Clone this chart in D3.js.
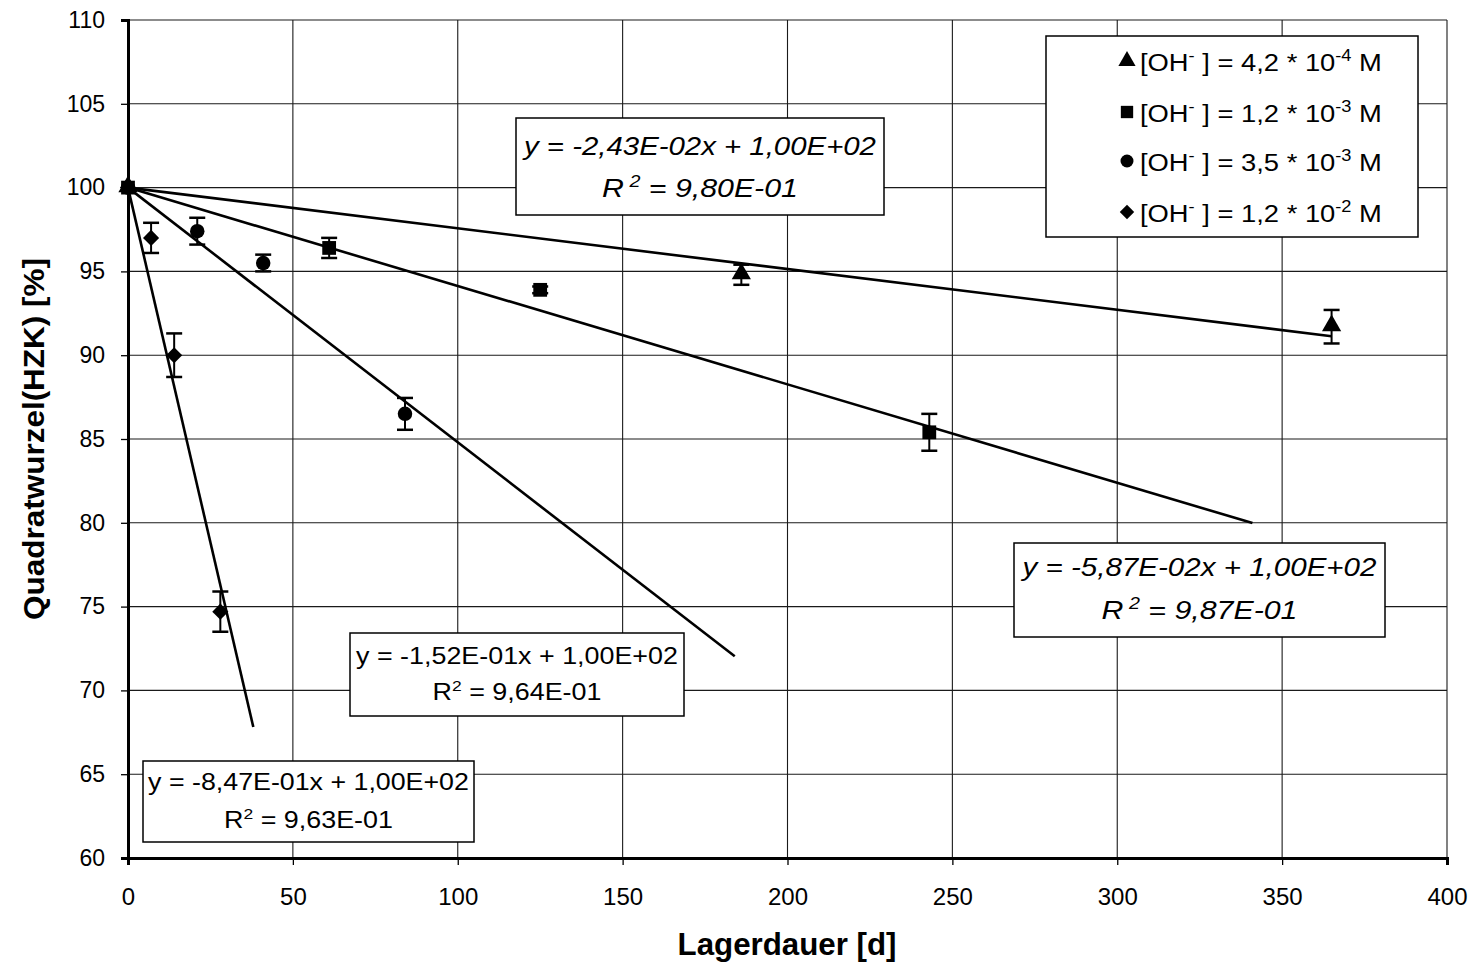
<!DOCTYPE html>
<html>
<head>
<meta charset="utf-8">
<script src="https://cdn.jsdelivr.net/npm/d3@7"></script>
<style>
  body { margin: 0; background: #fff; }
  svg { display: block; font-family: Arial, "Liberation Sans", sans-serif; }
</style>
</head>
<body>
<svg id="chart" width="1475" height="967"></svg>
<script>
// Storage time series of the normalised square root of HZK at four hydroxide concentrations
const seriesLabels = ["4,2", "1,2", "3,5", "1,2"];
const seriesExponents = ["-4", "-3", "-3", "-2"];
const seriesSymbols = ["triangle", "square", "circle", "diamond"];

const triDays = [0, 186, 365];
const triValues = [100, 94.8, 91.7];
const triErrors = [0, 0.6, 1.0];

const sqDays = [0, 61, 125, 243];
const sqValues = [100, 96.4, 93.9, 85.4];
const sqErrors = [0, 0.6, 0.2, 1.1];

const circDays = [0, 21, 41, 84];
const circValues = [100, 97.4, 95.5, 86.5];
const circErrors = [0, 0.8, 0.5, 0.95];

const diaDays = [0, 7, 14, 28];
const diaValues = [100, 97.0, 90.0, 74.7];
const diaErrors = [0, 0.9, 1.3, 1.2];

// Linear fits y = slope * x + intercept
const fitSlopes = [-2.43e-2, -5.87e-2, -1.52e-1, -8.47e-1];
const fitIntercepts = [100, 100, 100, 100];
const fitEndDays = [365, 341, 184, 38];
const fitSlopeTexts = ["-2,43E-02", "-5,87E-02", "-1,52E-01", "-8,47E-01"];
const fitInterceptTexts = ["1,00E+02", "1,00E+02", "1,00E+02", "1,00E+02"];
const fitR2Texts = ["9,80E-01", "9,87E-01", "9,64E-01", "9,63E-01"];

const xTicks = [0, 50, 100, 150, 200, 250, 300, 350, 400];
const yTicks = [60, 65, 70, 75, 80, 85, 90, 95, 100, 105, 110];

const xTitle = "Lagerdauer [d]";
const yTitle = "Quadratwurzel(HZK) [%]";

const series = [
  { days: triDays, values: triValues, errors: triErrors },
  { days: sqDays, values: sqValues, errors: sqErrors },
  { days: circDays, values: circValues, errors: circErrors },
  { days: diaDays, values: diaValues, errors: diaErrors }
];

const svg = d3.select("#chart");
const margin = { left: 128, top: 20, right: 28, bottom: 109 };
const W = 1475, H = 967;
const x = d3.scaleLinear().domain([0, 400]).range([margin.left, W - margin.right]);
const y = d3.scaleLinear().domain([60, 110]).range([H - margin.bottom, margin.top]);

// stretch a text horizontally (about pivotX) so that it spans the given width
function stretchTo(sel, width, pivotX) {
  const w = sel.node().getBBox().width;
  const s = width / w;
  sel.attr("transform", `translate(${pivotX},0) scale(${s},1) translate(${-pivotX},0)`);
}

// grid
const grid = svg.append("g");
grid.selectAll(".vg").data(xTicks.slice(1)).join("line")
  .attr("x1", d => x(d)).attr("x2", d => x(d))
  .attr("y1", y(60)).attr("y2", y(110))
  .attr("stroke", "#1a1a1a").attr("stroke-width", 1.1);
grid.selectAll(".hg").data(yTicks.slice(1)).join("line")
  .attr("x1", x(0)).attr("x2", x(400))
  .attr("y1", d => y(d)).attr("y2", d => y(d))
  .attr("stroke", "#1a1a1a").attr("stroke-width", 1.1);

// axes
const xAxis = svg.append("g").attr("transform", `translate(0,${y(60)})`)
  .call(d3.axisBottom(x).tickValues(xTicks).tickSize(7).tickPadding(23).tickFormat(d3.format("d")));
const yAxis = svg.append("g").attr("transform", `translate(${x(0)},0)`)
  .call(d3.axisLeft(y).tickValues(yTicks).tickSize(7).tickPadding(16).tickFormat(d3.format("d")));
[xAxis, yAxis].forEach(a => {
  a.select(".domain").attr("stroke", "#000").attr("stroke-width", 3);
  a.selectAll(".tick line").attr("stroke", "#000").attr("stroke-width", 1.3);
  a.selectAll(".tick text").attr("fill", "#000")
    .style("font-family", "Arial, 'Liberation Sans', sans-serif");
});
xAxis.selectAll(".tick text").style("font-size", "24px");
yAxis.selectAll(".tick text").style("font-size", "23px");

// axis titles
const xt = svg.append("text").attr("x", 787).attr("y", 955).attr("text-anchor", "middle")
  .style("font-size", "31px").style("font-weight", "bold").text(xTitle);
stretchTo(xt, 219, 787);
const ytg = svg.append("g").attr("transform", `translate(44,439) rotate(-90)`);
const yt = ytg.append("text").attr("x", 0).attr("y", 0)
  .attr("text-anchor", "middle").style("font-size", "30px").style("font-weight", "bold")
  .text(yTitle);
stretchTo(yt, 362, 0);

// fit lines
svg.append("g").selectAll("line").data(fitSlopes).join("line")
  .attr("x1", x(0)).attr("y1", (d, i) => y(fitIntercepts[i]))
  .attr("x2", (d, i) => x(fitEndDays[i]))
  .attr("y2", (d, i) => y(fitIntercepts[i] + d * fitEndDays[i]))
  .attr("stroke", "#000").attr("stroke-width", 2.6);

// symbols
const diamondSymbol = {
  draw(ctx, size) {
    const r = Math.sqrt(size / 2);
    ctx.moveTo(0, -r); ctx.lineTo(r, 0); ctx.lineTo(0, r); ctx.lineTo(-r, 0); ctx.closePath();
  }
};
const symbolTypes = { triangle: d3.symbolTriangle, square: d3.symbolSquare, circle: d3.symbolCircle, diamond: diamondSymbol };
const symbolSizes = { triangle: 160, square: 190, circle: 165, diamond: 130 };
function symbolPath(kind, k = 1) { return d3.symbol().type(symbolTypes[kind]).size(symbolSizes[kind] * k)(); }

series.forEach((s, si) => {
  const g = svg.append("g");
  const pts = s.days.map((d, i) => ({ d, v: s.values[i], e: s.errors[i] }));
  const eb = g.selectAll(".eb").data(pts.filter(p => p.e > 0)).join("g");
  eb.append("line").attr("x1", p => x(p.d)).attr("x2", p => x(p.d))
    .attr("y1", p => y(p.v - p.e)).attr("y2", p => y(p.v + p.e))
    .attr("stroke", "#000").attr("stroke-width", 2);
  [-1, 1].forEach(sign => {
    eb.append("line").attr("x1", p => x(p.d) - 8).attr("x2", p => x(p.d) + 8)
      .attr("y1", p => y(p.v + sign * p.e)).attr("y2", p => y(p.v + sign * p.e))
      .attr("stroke", "#000").attr("stroke-width", 2.5);
  });
  g.selectAll(".pt").data(pts).join("path")
    .attr("d", symbolPath(seriesSymbols[si]))
    .attr("transform", p => `translate(${x(p.d)},${y(p.v)})${seriesSymbols[si] === "triangle" ? " translate(0,-1)" : ""}`)
    .attr("fill", "#000");
});

// equation boxes
const eqBoxes = [
  { x0: 516, y0: 118, w: 368, h: 97, italic: true, fs: 26, l1: 155, l2: 197, w1: 355, w2: 196 },
  { x0: 1014, y0: 543, w: 371, h: 94, italic: true, fs: 26, l1: 576, l2: 619, w1: 357, w2: 196 },
  { x0: 350, y0: 633, w: 334, h: 83, italic: false, fs: 23, l1: 664, l2: 700, w1: 322, w2: 169 },
  { x0: 143, y0: 761, w: 331, h: 81, italic: false, fs: 23, l1: 790, l2: 828, w1: 321, w2: 169 }
];
eqBoxes.forEach((b, i) => {
  const g = svg.append("g");
  g.append("rect").attr("x", b.x0).attr("y", b.y0).attr("width", b.w).attr("height", b.h)
    .attr("fill", "#fff").attr("stroke", "#000").attr("stroke-width", 1.5);
  const cx = b.x0 + b.w / 2;
  const st = b.italic ? "italic" : "normal";
  const sp = b.italic ? " " : "";
  const t1 = g.append("text").attr("x", cx).attr("y", b.l1).attr("text-anchor", "middle")
    .style("font-size", b.fs + "px").style("font-style", st)
    .text(`y = ${fitSlopeTexts[i]}x + ${fitInterceptTexts[i]}`);
  stretchTo(t1, b.w1, cx);
  const t = g.append("text").attr("x", cx).attr("y", b.l2).attr("text-anchor", "middle")
    .style("font-size", b.fs + "px").style("font-style", st);
  t.append("tspan").text("R");
  t.append("tspan").attr("dy", -b.fs * 0.4).style("font-size", (b.fs * 0.65) + "px").text(sp + "2");
  t.append("tspan").attr("dy", b.fs * 0.4).text(`${sp} = ${fitR2Texts[i]}`);
  stretchTo(t, b.w2, cx);
});

// legend
const lg = svg.append("g");
lg.append("rect").attr("x", 1046).attr("y", 36).attr("width", 372).attr("height", 201)
  .attr("fill", "#fff").attr("stroke", "#000").attr("stroke-width", 1.5);
const legendY = [62, 113, 162, 213];
seriesSymbols.forEach((s, i) => {
  lg.append("path").attr("d", symbolPath(s, 0.8))
    .attr("transform", `translate(1127,${legendY[i] - 1})`).attr("fill", "#000");
  const t = lg.append("text").attr("x", 1140).attr("y", legendY[i] + 9)
    .style("font-size", "24px");
  t.append("tspan").text("[OH");
  t.append("tspan").attr("dy", -10).style("font-size", "16px").text("-");
  t.append("tspan").attr("dy", 10).text(` ] = ${seriesLabels[i]} * 10`);
  t.append("tspan").attr("dy", -10).style("font-size", "16px").text(seriesExponents[i]);
  t.append("tspan").attr("dy", 10).text(" M");
  stretchTo(t, 242, 1140);
});
</script>
</body>
</html>
